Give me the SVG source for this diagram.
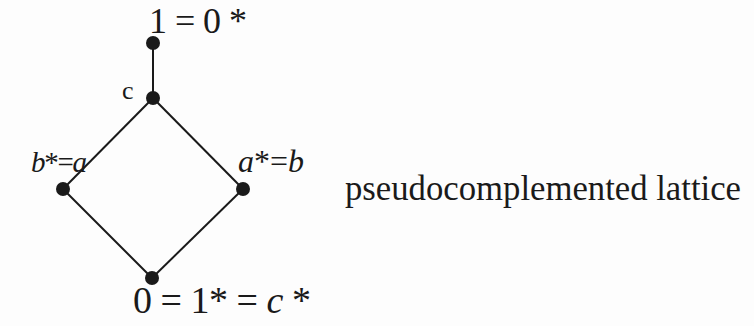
<svg xmlns="http://www.w3.org/2000/svg" width="754" height="326" viewBox="0 0 754 326">
<style>
.t{font-family:"Liberation Serif","Times New Roman","DejaVu Serif","Noto Serif",serif;fill:#1a1a1a}
.i{font-style:italic}
.e{stroke:#1a1a1a;stroke-width:2;fill:none}
.n{fill:#1a1a1a}
</style>
<rect width="754" height="326" fill="#fdfdfd"/>
<g id="connectors">
<line class="e" x1="153" y1="43" x2="153" y2="98"/>
<line class="e" x1="153" y1="98" x2="63" y2="189"/>
<line class="e" x1="153" y1="98" x2="243" y2="189"/>
<line class="e" x1="63" y1="189" x2="152" y2="278"/>
<line class="e" x1="243" y1="189" x2="152" y2="278"/>
</g>
<g id="node-top">
<circle class="n" cx="153" cy="43" r="7"/>
<text class="t" font-size="36" x="149" y="33" textLength="98" lengthAdjust="spacing">1 = 0 *</text>
</g>
<g id="node-c">
<circle class="n" cx="153" cy="98" r="7"/>
<text class="t" font-size="26" x="122" y="99">c</text>
</g>
<g id="node-left">
<circle class="n" cx="63" cy="189" r="7"/>
<text class="t" font-size="29" x="31" y="172" textLength="56" lengthAdjust="spacing"><tspan class="i">b</tspan>*=<tspan class="i">a</tspan></text>
</g>
<g id="node-right">
<circle class="n" cx="243" cy="189" r="7"/>
<text class="t" font-size="31" x="238" y="172" textLength="66" lengthAdjust="spacingAndGlyphs"><tspan class="i">a</tspan>*=<tspan class="i">b</tspan></text>
</g>
<g id="node-bottom">
<circle class="n" cx="152" cy="278" r="7"/>
<text class="t" font-size="38" x="133" y="313" textLength="178" lengthAdjust="spacing">0 = 1* = <tspan class="i">c</tspan> *</text>
</g>
<g id="caption">
<text class="t" font-size="35" x="345" y="200" textLength="396" lengthAdjust="spacingAndGlyphs">pseudocomplemented lattice</text>
</g>
</svg>
